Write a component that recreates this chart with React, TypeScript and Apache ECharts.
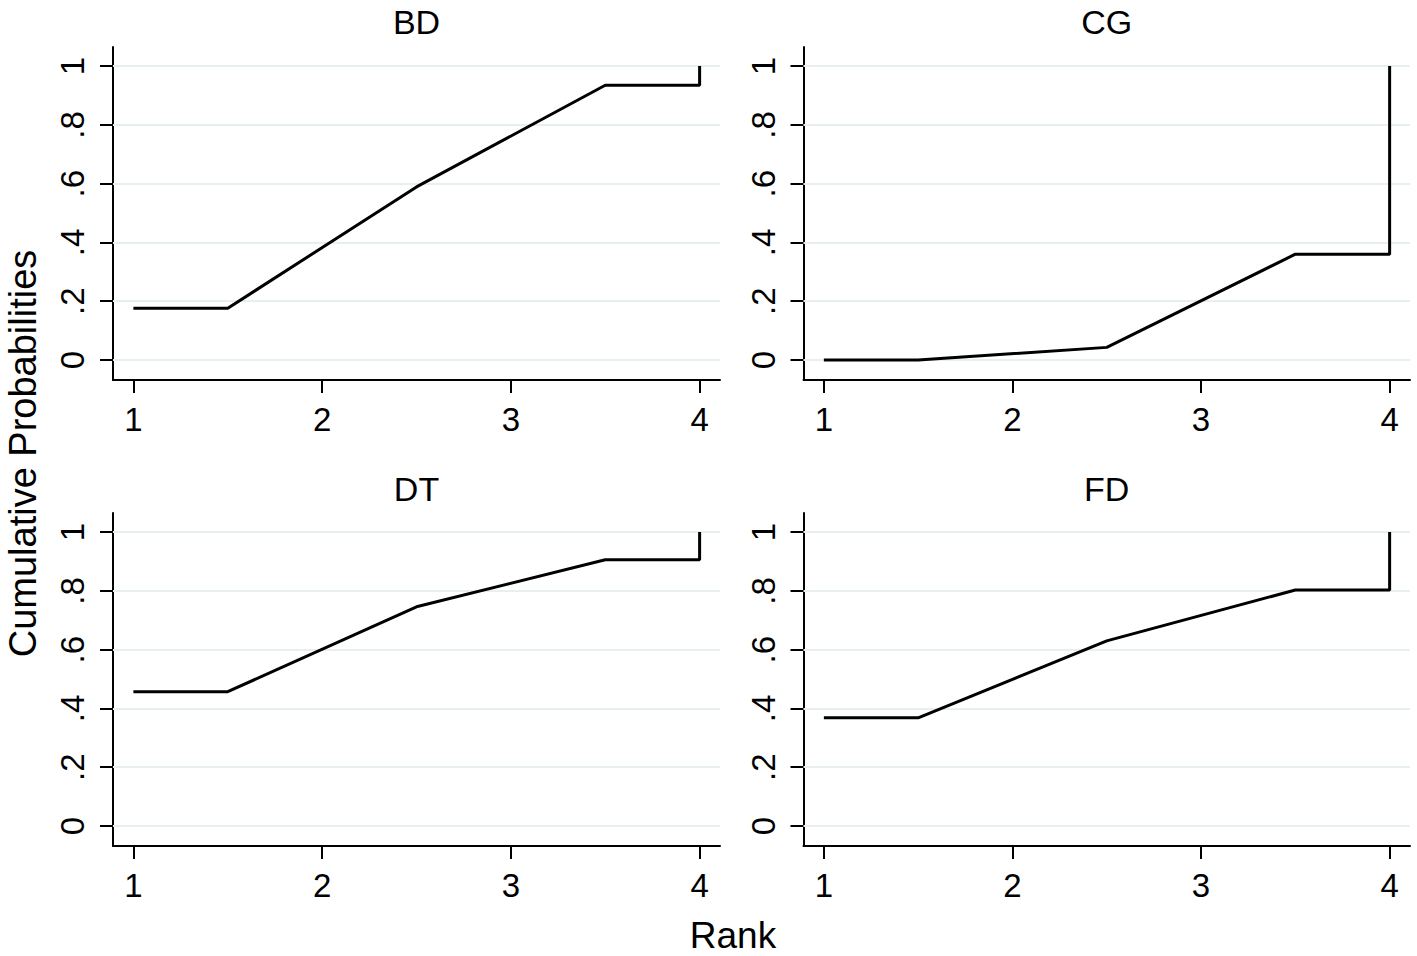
import React, { useEffect, useRef } from "react";
import * as echarts from "echarts";

// ---- data ----
const panelTitles = ["BD", "CG", "DT", "FD"];
// rank positions of the plotted vertices (Stata-style cumulative rank plot)
const rankPoints = [1, 1.5, 2.5, 3.5, 4, 4];
const bdValues = [0.176, 0.176, 0.589, 0.935, 0.935, 1];
const cgValues = [0.0, 0.0, 0.043, 0.36, 0.36, 1];
const dtValues = [0.457, 0.457, 0.746, 0.906, 0.906, 1];
const fdValues = [0.368, 0.368, 0.63, 0.803, 0.803, 1];
const xTicks = [1, 2, 3, 4];
const yTicks = [0, 0.2, 0.4, 0.6, 0.8, 1];
const xTitle = "Rank";
const yTitle = "Cumulative Probabilities";

const FONT = '"Liberation Sans", Arial, Helvetica, sans-serif';

const panelValues = [bdValues, cgValues, dtValues, fdValues];

// layout (pixels)
const grids = [
  { left: 113, top: 47, width: 607, height: 333 },
  { left: 803.5, top: 47, width: 606.5, height: 333 },
  { left: 113, top: 513, width: 607, height: 333 },
  { left: 803.5, top: 513, width: 606.5, height: 333 },
];

function yFmt(v: number): string {
  if (Math.abs(v) < 1e-9) return "0";
  if (Math.abs(v - 1) < 1e-9) return "1";
  return "." + Math.round(v * 10);
}

export default function App() {
  const ref = useRef<HTMLDivElement>(null);
  useEffect(() => {
    if (!ref.current) return;
    const chart = echarts.init(ref.current, undefined, { renderer: "svg" });
    const axisLine = { show: true, onZero: false, lineStyle: { color: "#000", width: 2 } };
    const axisTick = { show: true, length: 13, lineStyle: { color: "#000", width: 2 } };
    const option: any = {
      animation: false,
      backgroundColor: "#fff",
      grid: grids.map((g) => ({ ...g, containLabel: false })),
      xAxis: grids.map((_, i) => ({
        type: "value",
        gridIndex: i,
        min: 0.892,
        max: 4.108,
        axisLine,
        axisTick: { ...axisTick, customValues: xTicks },
        axisLabel: {
          customValues: xTicks,
          color: "#000",
          fontSize: 33,
          fontFamily: FONT,
          margin: 23,
          formatter: (v: number) => String(v),
        },
        splitLine: { show: false },
      })),
      yAxis: grids.map((_, i) => ({
        type: "value",
        gridIndex: i,
        min: -0.068,
        max: 1.065,
        axisLine,
        axisTick: { ...axisTick, customValues: yTicks },
        axisLabel: {
          customValues: yTicks,
          color: "#000",
          fontSize: 33,
          fontFamily: FONT,
          rotate: 90,
          margin: 24,
          formatter: (v: number) => yFmt(v),
        },
        splitLine: { show: false },
      })),
      series: panelValues.flatMap((vals, i) => [
        {
          type: "line",
          xAxisIndex: i,
          yAxisIndex: i,
          silent: true,
          data: [],
          z: 1,
          markLine: {
            silent: true,
            z: 1,
            symbol: "none",
            label: { show: false },
            lineStyle: { color: "#e8eff1", width: 2, type: "solid" },
            data: yTicks.map((t) => ({ yAxis: t })),
          },
        },
        {
          type: "line",
          name: panelTitles[i],
          xAxisIndex: i,
          yAxisIndex: i,
          showSymbol: false,
          symbol: "none",
          lineStyle: { color: "#000", width: 3 },
          data: rankPoints.map((r, k) => [r, vals[k]]),
          z: 6,
        },
      ]),
      graphic: [
        ...grids.map((g, i) => ({
          type: "text",
          x: g.left + g.width / 2,
          y: i < 2 ? 22 : 489,
          style: {
            text: panelTitles[i],
            font: `34px ${FONT}`,
            fill: "#000",
            textAlign: "center",
            textVerticalAlign: "middle",
          },
        })),
        {
          type: "text",
          x: 733,
          y: 935,
          style: {
            text: xTitle,
            font: `37px ${FONT}`,
            fill: "#000",
            textAlign: "center",
            textVerticalAlign: "middle",
          },
        },
        {
          type: "text",
          x: 22.5,
          y: 453.5,
          rotation: Math.PI / 2,
          style: {
            text: yTitle,
            font: `38px ${FONT}`,
            fill: "#000",
            textAlign: "center",
            textVerticalAlign: "middle",
          },
        },
      ],
    };
    chart.setOption(option);
    return () => chart.dispose();
  }, []);
  return (
    <div
      ref={ref}
      style={{ position: "fixed", left: 0, top: 0, width: 1417, height: 956, background: "#fff" }}
    />
  );
}
